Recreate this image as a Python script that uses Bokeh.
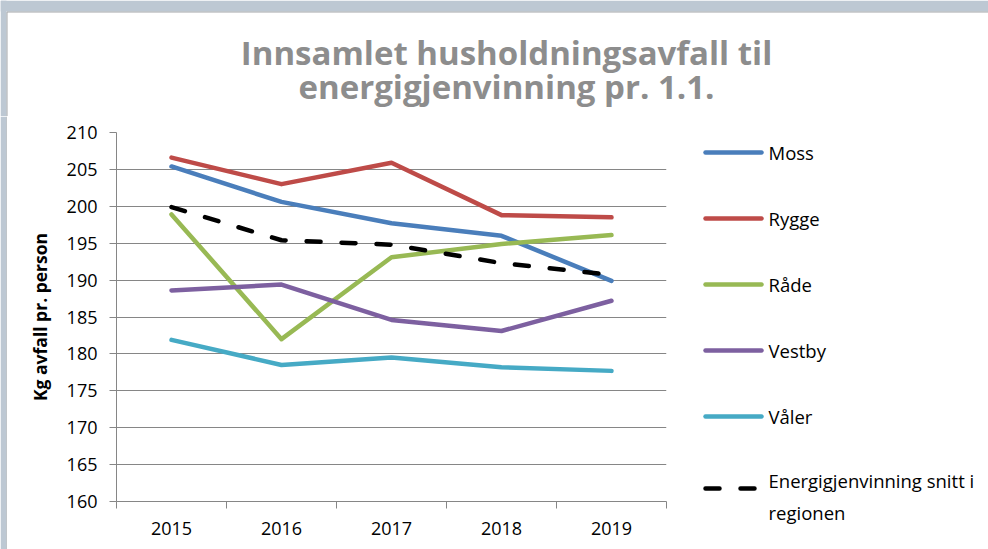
from bokeh.plotting import figure
from bokeh.layouts import column, row
from bokeh.models import Range1d, FixedTicker
from bokeh.core.properties import value
from bokeh.embed import file_html
from bokeh.resources import INLINE

# ---- data ----
years = ["2015", "2016", "2017", "2018", "2019"]
moss = [205.4, 200.6, 197.7, 196.0, 189.9]
rygge = [206.6, 203.0, 205.9, 198.8, 198.5]
rade = [198.9, 182.0, 193.1, 194.9, 196.1]
vestby = [188.6, 189.4, 184.6, 183.1, 187.2]
valer = [181.9, 178.5, 179.5, 178.2, 177.7]
snitt = [199.9, 195.4, 194.8, 192.3, 190.7]

series_names = ["Moss", "Rygge", "Råde", "Vestby", "Våler"]
series_values = [moss, rygge, rade, vestby, valer]
series_colors = ["#4A7EBB", "#BE4B48", "#98B954", "#7D60A0", "#46AAC5"]
avg_name = ["Energigjenvinning snitt i", "regionen"]
title_lines = ["Innsamlet husholdningsavfall til", "energigjenvinning pr. 1.1."]
y_label = "Kg avfall pr. person"
y_ticks = list(range(160, 211, 5))

GRID = "#868686"
FONT = "Open Sans"
FRAME_BG = "#BDC8D3"
FRAME_LINE = "#A3A6A9"

TOP_H = 116
ROW_H = 549 - TOP_H


def blank(w, h):
    f = figure(width=w, height=h, x_range=Range1d(0, w), y_range=Range1d(h, 0),
               output_backend="svg", toolbar_location=None, min_border=0, title=None,
               x_axis_location=None, y_axis_location=None, frame_align=False,
               outline_line_color=None, border_fill_color="white",
               background_fill_color="white")
    f.grid.visible = False
    return f


# ---- title figure (with slide frame strips) ----
tf = blank(988, TOP_H)
tf.quad(left=[0, 0], right=[988, 6], top=[0, 0], bottom=[11, TOP_H],
        fill_color=FRAME_BG, line_color=None)
tf.line([6.5, 6.5, 988], [TOP_H, 11.5, 11.5], line_color=FRAME_LINE, line_width=1)
tf.text(x=[506, 506], y=[52, 86], text=title_lines, text_font=value(FONT),
        text_font_style="bold", text_font_size="33px", text_color="#8D8D8D",
        text_align="center", text_baseline="alphabetic")

# ---- left strip ----
sf = blank(7, ROW_H)
sf.quad(left=[0], right=[6], top=[0], bottom=[ROW_H], fill_color=FRAME_BG, line_color=None)
sf.line([6.5, 6.5], [0, ROW_H], line_color=FRAME_LINE, line_width=1)

# ---- main chart ----
xs = [i + 0.5 for i in range(len(years))]
p = figure(width=668, height=ROW_H, x_range=Range1d(0, len(years)), y_range=Range1d(160, 210),
           output_backend="svg", toolbar_location=None, frame_align=False,
           min_border_left=109, min_border_right=9, min_border_top=16, min_border_bottom=48,
           outline_line_color=None, background_fill_color="white", border_fill_color="white")

for vals, col in zip(series_values, series_colors):
    p.line(xs, vals, line_color=col, line_width=4.5, line_cap="round", line_join="round")
p.line(xs, snitt, line_color="black", line_width=4.5, line_dash="14 21",
       line_cap="round", line_join="round")

p.xgrid.visible = False
p.ygrid.ticker = FixedTicker(ticks=y_ticks)
p.ygrid.grid_line_color = GRID
p.ygrid.grid_line_width = 1

p.yaxis.ticker = FixedTicker(ticks=y_ticks)
p.yaxis.axis_line_color = GRID
p.yaxis.major_tick_line_color = GRID
p.yaxis.major_tick_out = 7
p.yaxis.major_tick_in = 0
p.yaxis.minor_tick_line_color = None
p.yaxis.major_label_text_font = FONT
p.yaxis.major_label_text_font_size = "18px"
p.yaxis.major_label_text_color = "black"
p.yaxis.major_label_standoff = 12
p.yaxis.axis_label = y_label
p.yaxis.axis_label_text_font = FONT
p.yaxis.axis_label_text_font_style = "bold"
p.yaxis.axis_label_text_font_size = "17.5px"
p.yaxis.axis_label_text_color = "black"
p.yaxis.axis_label_standoff = 12

p.xaxis.ticker = FixedTicker(ticks=xs, minor_ticks=list(range(len(years) + 1)))
p.xaxis.major_label_overrides = {x: y for x, y in zip(xs, years)}
p.xaxis.axis_line_color = GRID
p.xaxis.major_tick_line_color = None
p.xaxis.major_tick_out = 0
p.xaxis.major_tick_in = 0
p.xaxis.minor_tick_line_color = GRID
p.xaxis.minor_tick_out = 7
p.xaxis.minor_tick_in = 0
p.xaxis.major_label_text_font = FONT
p.xaxis.major_label_text_font_size = "18px"
p.xaxis.major_label_text_color = "black"
p.xaxis.major_label_standoff = 13

# ---- legend figure ----
lf = blank(313, ROW_H)
ly = [36, 102, 168, 234, 300]
for yy, name, col in zip(ly, series_names, series_colors):
    lf.line([30, 86], [yy, yy], line_color=col, line_width=4.5, line_cap="round")
lf.line([30, 86], [372, 372], line_color="black", line_width=4.5, line_dash="14 21",
        line_cap="round")
lf.text(x=[93] * len(series_names), y=ly, text=series_names, text_font=value(FONT),
        text_font_size="18.5px", text_color="black", text_baseline="middle")
lf.text(x=[93, 93], y=[364, 396], text=avg_name, text_font=value(FONT),
        text_font_size="18.5px", text_color="black", text_baseline="middle")

layout = column(tf, row(sf, p, lf))
open("out.html", "w").write(file_html(layout, INLINE))
